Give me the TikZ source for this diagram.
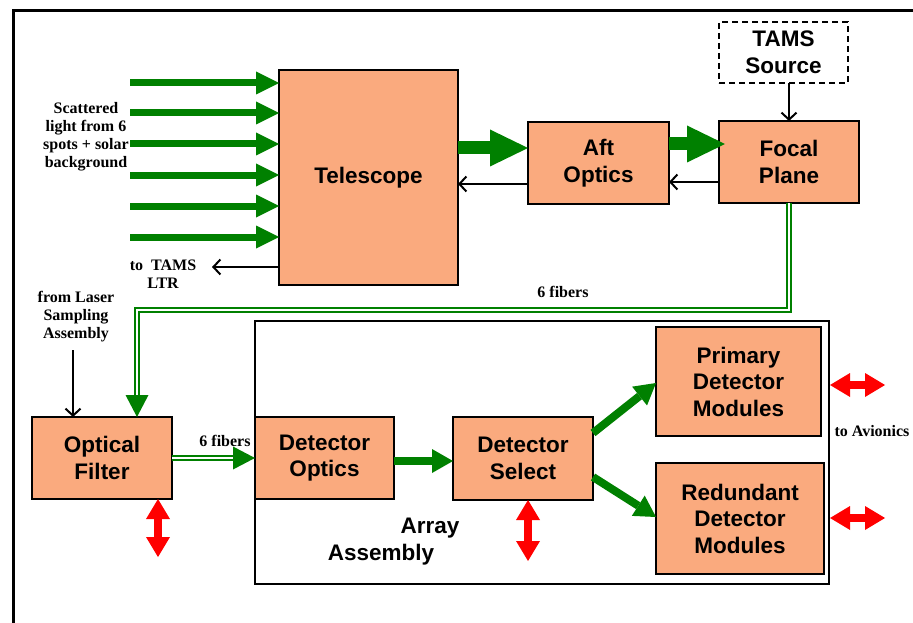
\documentclass[tikz,border=0pt]{standalone}
\usepackage{fontspec}
\setmainfont{Liberation Serif}
\setsansfont{Liberation Sans}
\usetikzlibrary{arrows.meta,positioning}
\definecolor{salmon}{RGB}{250,170,126}
\definecolor{green}{RGB}{0,128,0}
\definecolor{red}{RGB}{255,0,0}

\begin{document}
\begin{tikzpicture}[x=1pt,y=-1pt,
  blk/.style={draw,line width=2pt,fill=salmon,inner sep=2pt,outer sep=0pt,align=center,
    font=\sffamily\bfseries\fontsize{22.5}{26.5}\selectfont},
  note/.style={align=center,inner sep=0pt,font=\bfseries\fontsize{16}{18}\selectfont},
  garr/.style={draw=green,line width=7pt,-{Triangle[length=23pt,width=23pt,line width=0pt]}},
  gbig/.style={draw=green,line width=13pt,-{Triangle[length=38pt,width=37pt,line width=0pt]}},
  gmid/.style={draw=green,line width=8pt,-{Triangle[length=21pt,width=24pt,line width=0pt]}},
  ghead/.style={draw=green,line width=0.5pt,-{Triangle[length=22pt,width=23pt,line width=0pt]}},
  fiber/.style={draw=green,double=white,double distance=2pt,line width=1.6pt},
  barr/.style={draw,line width=2pt,-{Straight Barb[length=7pt,width=15pt,line width=2pt]}},
  rarr/.style={draw=red,line width=8pt,
    {Triangle[length=20pt,width=24pt,line width=0pt]}-{Triangle[length=20pt,width=24pt,line width=0pt]}}]
\useasboundingbox (0,0) rectangle (913,623);
% outer frame
\draw[line width=3pt] (13,623) -- (13,11) -- (913,11);

% array assembly
\node[draw,line width=2pt,minimum width=574pt,minimum height=263pt,outer sep=0pt] (arr) at (542,452.5) {};
\node[font=\sffamily\bfseries\fontsize{22.5}{26}\selectfont] (aa1) at (430,528) {Array};
\node[font=\sffamily\bfseries\fontsize{22.5}{26}\selectfont] (aa2) at (381,555) {Assembly};

% blocks
\node[blk,minimum width=179pt,minimum height=215pt] (tel) at (368.5,177.5) {Telescope};
\node[blk,minimum width=141pt,minimum height=82pt] (aft) at (598.5,163) {Aft\\Optics};
\node[blk,minimum width=140pt,minimum height=82pt] (fp) at (789,162) {Focal\\Plane};
\node[blk,fill=white,dash pattern=on 6pt off 4pt,minimum width=129pt,minimum height=61pt] (tams) at (783.5,52.5) {TAMS\\Source};
\node[blk,minimum width=140pt,minimum height=82pt] (ofl) at (102,458) {Optical\\Filter};
\node[blk,minimum width=139pt,minimum height=82pt] (dop) at (324.5,458) {Detector\\Optics};
\node[blk,minimum width=140pt,minimum height=83pt] (dsel) at (523,458.5) {Detector\\Select};
\node[blk,minimum width=165pt,minimum height=109pt] (pdm) at (738.5,381.5) {Primary\\Detector\\Modules};
\node[blk,minimum width=168pt,minimum height=111pt] (rdm) at (740,518.5) {Redundant\\Detector\\Modules};

% notes
\node[note] (scl) at (86,137) {Scattered\\light from 6\\spots + solar\\background};
\node[note] (ltr) at (163,274) {to\ \ TAMS\\LTR};
\node[note] (lsr) at (76,317) {from Laser\\Sampling\\Assembly};
\node[note] (fb1) at (563,292) {6 fibers};
\node[note] (fb2) at (225,441) {6 fibers};
\node[note] (avi) at (872,431) {to Avionics};

% incoming light
\foreach \y [count=\i] in {83,113,144,175,206,237} {
  \coordinate (s\i) at (130,\y);
  \draw[garr] (s\i) -- (s\i -| tel.west);
}

% optical path
\draw[gbig] (tel.east |- 0,148) -- (aft.west |- 0,148);
\draw[gbig] (aft.east |- 0,144) -- ([xshift=6pt]fp.west |- 0,144);
\draw[barr] (fp.west |- 0,182) -- (aft.east |- 0,182);
\draw[barr] (aft.west |- 0,184) -- (tel.east |- 0,184);
\draw[barr] (tams.south -| fp.north) -- (fp.north);
\coordinate (lt) at (212,267);
\draw[barr] (tel.west |- lt) -- (lt);

% fibers
\coordinate (fk) at (137,310);
\coordinate (fh) at (137,395);
\draw[fiber] (fp.south) |- (fk) -- (fh);
\draw[ghead] (fh) -- (fh |- ofl.north);
\coordinate (la) at (73,350);
\draw[barr] (la) -- (la |- ofl.north);
\coordinate (fh2) at (233,458);
\draw[fiber] (ofl.east) -- (fh2);
\draw[ghead] (fh2) -- (dop.west);

% detector chain
\draw[gmid] (dop.east |- 0,461) -- (dsel.west |- 0,461);
\draw[gmid] ([yshift=25.5pt]dsel.east) -- ([yshift=-1.5pt]pdm.west);
\draw[gmid] ([yshift=-18.5pt]dsel.east) -- ([yshift=1.5pt]rdm.west);

% interfaces
\coordinate (ob) at (158,557);
\draw[rarr] (ob |- ofl.south) -- (ob);
\coordinate (sb) at (528,561);
\draw[rarr] (sb |- dsel.south) -- (sb);
\coordinate (pr) at (885,385);
\draw[rarr] ([xshift=1pt]arr.east |- pr) -- (pr);
\coordinate (rr) at (885,518);
\draw[rarr] ([xshift=1pt]arr.east |- rr) -- (rr);
\end{tikzpicture}
\end{document}
